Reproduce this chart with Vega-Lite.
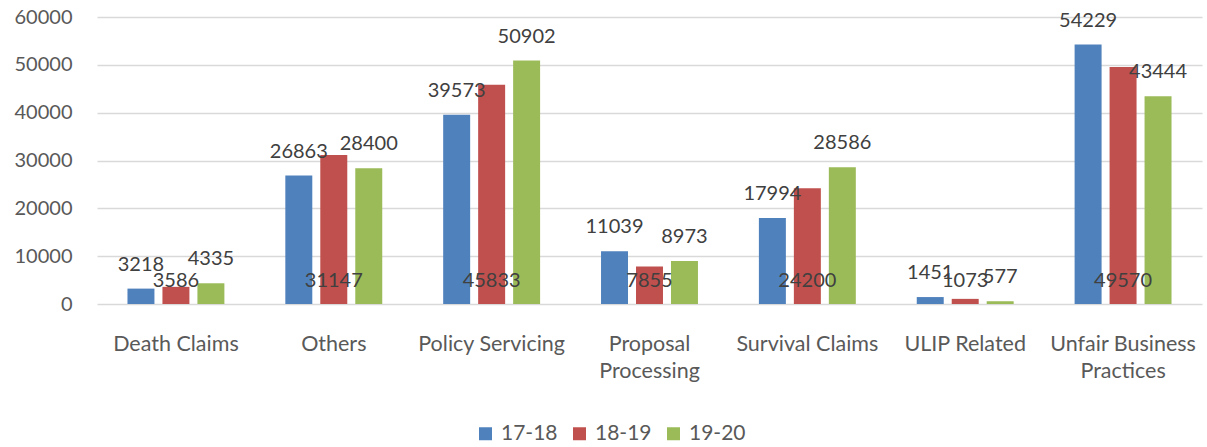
{
  "$schema": "https://vega.github.io/schema/vega-lite/v6.json",
  "autosize": {"type": "none"},
  "padding": {"left": 97, "top": 17, "right": 5, "bottom": 143},
  "width": 1105,
  "height": 287,
  "background": "#ffffff",
  "config": {
    "view": {"stroke": null},
    "font": "Lato",
    "axis": {"labelFont": "Lato", "labelFontSize": 20, "labelColor": "#595959"},
    "legend": {"labelFont": "Lato", "labelFontSize": 21, "labelColor": "#595959"}
  },
  "data": {
    "values": [
      {"category": "Death Claims", "series": "17-18", "value": 3218},
      {"category": "Death Claims", "series": "18-19", "value": 3586},
      {"category": "Death Claims", "series": "19-20", "value": 4335},
      {"category": "Others", "series": "17-18", "value": 26863},
      {"category": "Others", "series": "18-19", "value": 31147},
      {"category": "Others", "series": "19-20", "value": 28400},
      {"category": "Policy Servicing", "series": "17-18", "value": 39573},
      {"category": "Policy Servicing", "series": "18-19", "value": 45833},
      {"category": "Policy Servicing", "series": "19-20", "value": 50902},
      {"category": "Proposal Processing", "series": "17-18", "value": 11039},
      {"category": "Proposal Processing", "series": "18-19", "value": 7855},
      {"category": "Proposal Processing", "series": "19-20", "value": 8973},
      {"category": "Survival Claims", "series": "17-18", "value": 17994},
      {"category": "Survival Claims", "series": "18-19", "value": 24200},
      {"category": "Survival Claims", "series": "19-20", "value": 28586},
      {"category": "ULIP Related", "series": "17-18", "value": 1451},
      {"category": "ULIP Related", "series": "18-19", "value": 1073},
      {"category": "ULIP Related", "series": "19-20", "value": 577},
      {"category": "Unfair Business Practices", "series": "17-18", "value": 54229},
      {"category": "Unfair Business Practices", "series": "18-19", "value": 49570},
      {"category": "Unfair Business Practices", "series": "19-20", "value": 43444}
    ]
  },
  "encoding": {
    "x": {
      "field": "category", "type": "nominal", "sort": null,
      "scale": {"paddingInner": 0, "paddingOuter": 0},
      "axis": {
        "title": null, "labelAngle": 0, "ticks": false, "domain": false,
        "labelFontSize": 21.5,
        "labelPadding": 29, "labelBaseline": "top", "labelLimit": 300, "labelLineHeight": 27,
        "labelExpr": "datum.value == 'Proposal Processing' ? ['Proposal','Processing'] : datum.value == 'Unfair Business Practices' ? ['Unfair Business','Practices'] : datum.value"
      }
    },
    "xOffset": {
      "field": "series", "type": "nominal",
      "scale": {"paddingInner": 0.2286, "paddingOuter": 0.871}
    }
  },
  "layer": [
    {
      "mark": {"type": "bar"},
      "encoding": {
        "y": {
          "field": "value", "type": "quantitative",
          "scale": {"domain": [0, 60000], "nice": false},
          "axis": {
            "title": null, "values": [0, 10000, 20000, 30000, 40000, 50000, 60000],
            "format": "d", "ticks": false, "domain": false, "labelPadding": 25,
            "gridColor": "#D9D9D9", "gridWidth": 1.3
          }
        },
        "color": {
          "field": "series", "type": "nominal",
          "scale": {"domain": ["17-18", "18-19", "19-20"], "range": ["#4F81BD", "#C0504D", "#9BBB59"]},
          "legend": {
            "title": null, "orient": "none", "direction": "horizontal",
            "legendX": 378, "legendY": 406,
            "symbolType": "square", "symbolSize": 169, "symbolStrokeWidth": 0,
            "labelOffset": 5, "columnPadding": 11
          }
        }
      }
    },
    {
      "transform": [{"filter": "datum.series != '18-19'"}],
      "mark": {"type": "text", "dy": -18, "baseline": "alphabetic", "fontSize": 20, "color": "#404040", "font": "Lato"},
      "encoding": {
        "y": {"field": "value", "type": "quantitative"},
        "text": {"field": "value", "type": "quantitative", "format": "d"}
      }
    },
    {
      "transform": [{"filter": "datum.series == '18-19'"}],
      "mark": {"type": "text", "dy": -17, "baseline": "alphabetic", "fontSize": 20, "color": "#404040", "font": "Lato"},
      "encoding": {
        "y": {"datum": 0, "type": "quantitative"},
        "text": {"field": "value", "type": "quantitative", "format": "d"}
      }
    }
  ]
}
